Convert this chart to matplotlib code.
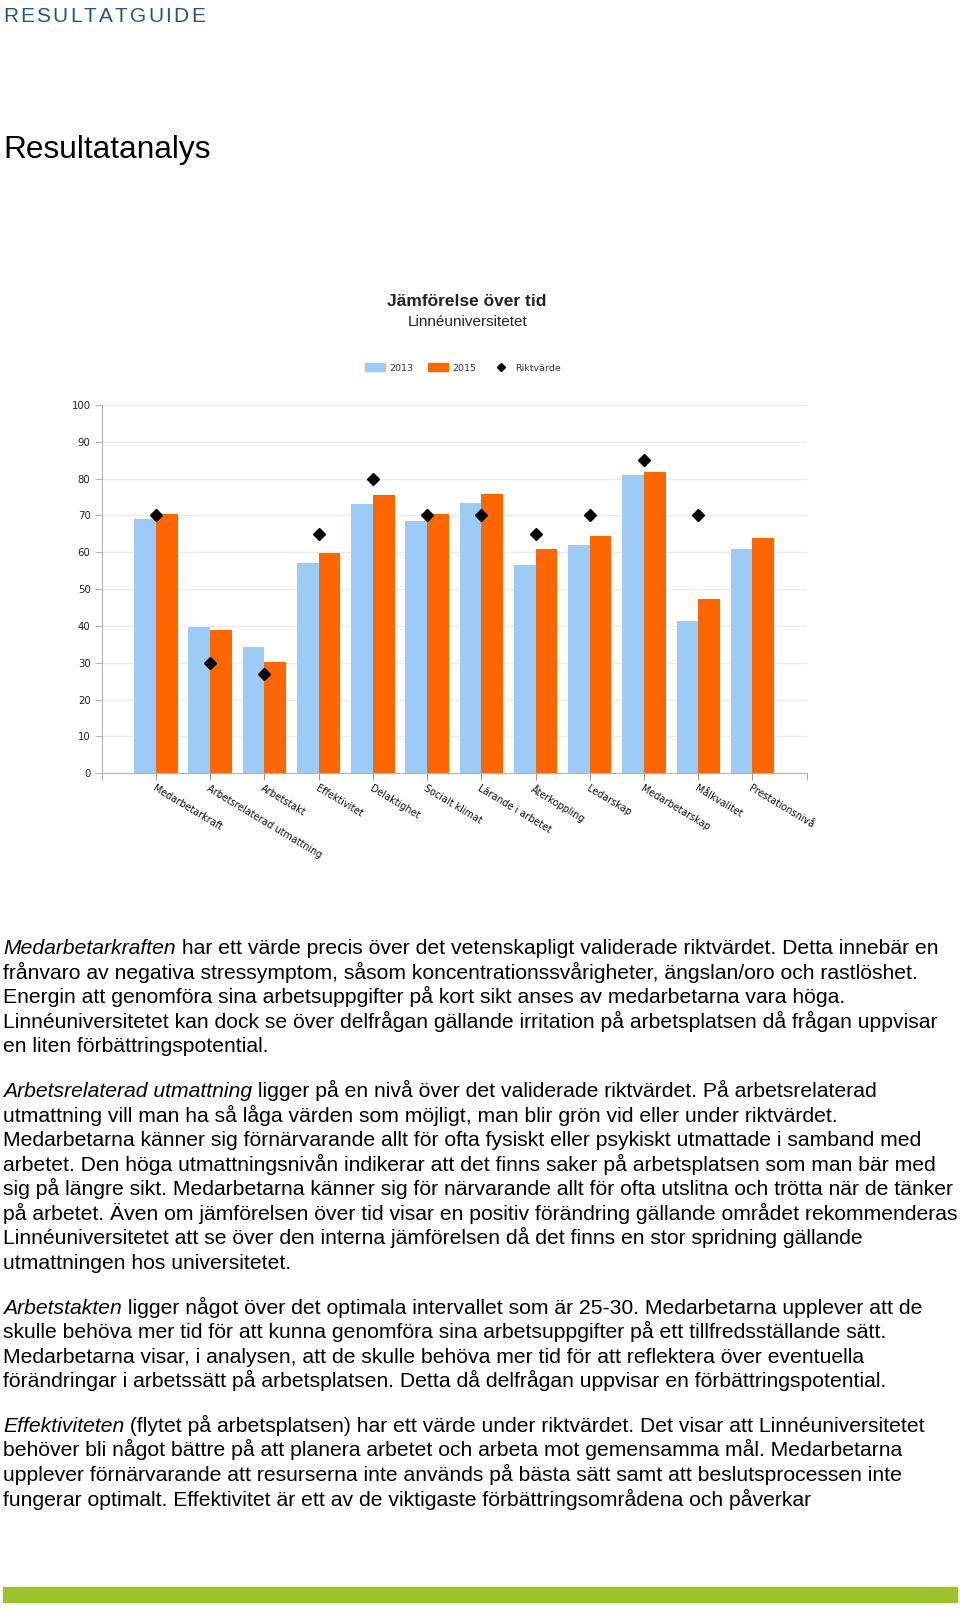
import numpy as np
import matplotlib
matplotlib.use("Agg")
import matplotlib.pyplot as plt
from matplotlib.lines import Line2D
from matplotlib.patches import Patch, Rectangle

# --- chart data ---
categories = ["Medarbetarkraft", "Arbetsrelaterad utmattning", "Arbetstakt",
              "Effektivitet", "Delaktighet", "Socialt klimat", "Lärande i arbetet",
              "Återkoppling", "Ledarskap", "Medarbetarskap", "Målkvalitet",
              "Prestationsnivå"]
v2013 = [69.0, 39.7, 34.2, 57.1, 73.0, 68.6, 73.4, 56.5, 62.1, 81.0, 41.3, 60.9]
v2015 = [70.3, 38.8, 30.1, 59.7, 75.5, 70.3, 75.8, 60.8, 64.4, 81.7, 47.3, 64.0]
riktvarde = [70, 30, 27, 65, 80, 70, 70, 65, 70, 85, 70, np.nan]
yticks = list(range(0, 101, 10))

# --- page text ---
paragraphs = [
    ("Medarbetarkraften",
     [" har ett värde precis över det vetenskapligt validerade riktvärdet. Detta innebär en",
      "frånvaro av negativa stressymptom, såsom koncentrationssvårigheter, ängslan/oro och rastlöshet.",
      "Energin att genomföra sina arbetsuppgifter på kort sikt anses av medarbetarna vara höga.",
      "Linnéuniversitetet kan dock se över delfrågan gällande irritation på arbetsplatsen då frågan uppvisar",
      "en liten förbättringspotential."]),
    ("Arbetsrelaterad utmattning",
     [" ligger på en nivå över det validerade riktvärdet. På arbetsrelaterad",
      "utmattning vill man ha så låga värden som möjligt, man blir grön vid eller under riktvärdet.",
      "Medarbetarna känner sig förnärvarande allt för ofta fysiskt eller psykiskt utmattade i samband med",
      "arbetet. Den höga utmattningsnivån indikerar att det finns saker på arbetsplatsen som man bär med",
      "sig på längre sikt. Medarbetarna känner sig för närvarande allt för ofta utslitna och trötta när de tänker",
      "på arbetet. Även om jämförelsen över tid visar en positiv förändring gällande området rekommenderas",
      "Linnéuniversitetet att se över den interna jämförelsen då det finns en stor spridning gällande",
      "utmattningen hos universitetet."]),
    ("Arbetstakten",
     [" ligger något över det optimala intervallet som är 25-30. Medarbetarna upplever att de",
      "skulle behöva mer tid för att kunna genomföra sina arbetsuppgifter på ett tillfredsställande sätt.",
      "Medarbetarna visar, i analysen, att de skulle behöva mer tid för att reflektera över eventuella",
      "förändringar i arbetssätt på arbetsplatsen. Detta då delfrågan uppvisar en förbättringspotential."]),
    ("Effektiviteten",
     [" (flytet på arbetsplatsen) har ett värde under riktvärdet. Det visar att Linnéuniversitetet",
      "behöver bli något bättre på att planera arbetet och arbeta mot gemensamma mål. Medarbetarna",
      "upplever förnärvarande att resurserna inte används på bästa sätt samt att beslutsprocessen inte",
      "fungerar optimalt. Effektivitet är ett av de viktigaste förbättringsområdena och påverkar"]),
]

BLUE = "#9ccbf8"
ORANGE = "#ff6600"
W, H = 960, 1610

fig = plt.figure(figsize=(W / 100, H / 100), dpi=100)
renderer = fig.canvas.get_renderer()


def fx(px):
    return px / W


def fy(py):
    return 1 - py / H


# header with letter spacing
hx = 3
for ch in "RESULTATGUIDE":
    t = fig.text(fx(hx), fy(16), ch, fontsize=15, family="Liberation Sans",
                 color="#1f5a7e", va="center", ha="left")
    hx += t.get_window_extent(renderer).width + 2.2

fig.text(fx(3), fy(158), "Resultatanalys", fontsize=22.8, family="Liberation Sans",
         va="baseline", ha="left")

# chart
ax = fig.add_axes([fx(101.7), fy(773.3), (806.7 - 101.7) / W, (773.3 - 405) / H])
x = np.arange(len(categories))
ax.bar(x - 0.2, v2013, 0.4, color=BLUE, zorder=2)
ax.bar(x + 0.2, v2015, 0.4, color=ORANGE, zorder=2)
ax.plot(x, riktvarde, "D", color="black", ms=6.4, ls="none", zorder=3)

ax.set_xlim(-1, 12)
ax.set_ylim(0, 100)
ax.set_yticks(yticks)
ax.yaxis.grid(True, color="#ebebeb", lw=1)
ax.set_axisbelow(True)
for s in ["top", "right"]:
    ax.spines[s].set_visible(False)
ax.spines["left"].set_color("#b4b4b4")
ax.spines["bottom"].set_color("#b4b4b4")
ax.tick_params(axis="y", length=5, color="#b4b4b4", labelsize=7.3,
               labelcolor="#222222", pad=3)
ax.set_xticks(x)
ax.set_xticks([-1, 12], minor=True)
ax.tick_params(axis="x", which="both", length=5, color="#999999",
               labelsize=6.9, labelcolor="#111111", pad=2)
ax.set_xticklabels(categories, rotation=-31, ha="left", va="top",
                   rotation_mode="anchor")

fig.text(fx(467), fy(302), "Jämförelse över tid", ha="center", va="center",
         fontsize=12.5, fontweight="bold", family="Liberation Sans", color="#222222")
fig.text(fx(468), fy(322), "Linnéuniversitetet", ha="center", va="center",
         fontsize=11, family="Liberation Sans", color="#222222")

handles = [Patch(color=BLUE, label="2013"), Patch(color=ORANGE, label="2015"),
           Line2D([], [], marker="D", color="black", ls="none", ms=4, label="Riktvärde")]
leg = fig.legend(handles=handles, loc="center", bbox_to_anchor=(fx(463), fy(368)),
                 ncol=3, frameon=False, fontsize=6.8, handlelength=2.1,
                 handleheight=0.85, handletextpad=0.43, columnspacing=1.6)
for t in leg.get_texts():
    t.set_color("#333333")

# body text
LINE = 24.6
GAP = 44.5
BODY = 15.2
y = 954
for lead, lines in paragraphs:
    t = fig.text(fx(3), fy(y), lead, fontsize=BODY, family="Liberation Sans",
                 style="italic", va="baseline", ha="left")
    w = t.get_window_extent(renderer).width
    fig.text(fx(3 + w), fy(y), lines[0], fontsize=BODY, family="Liberation Sans",
             va="baseline", ha="left")
    for line in lines[1:]:
        y += LINE
        fig.text(fx(3), fy(y), line, fontsize=BODY, family="Liberation Sans",
                 va="baseline", ha="left")
    y += GAP

# green footer bar
fig.patches.append(Rectangle((fx(3), fy(1602)), (957 - 3) / W, 15 / H,
                             transform=fig.transFigure, color="#9cc42a"))

fig.savefig("out.png", dpi=100)
